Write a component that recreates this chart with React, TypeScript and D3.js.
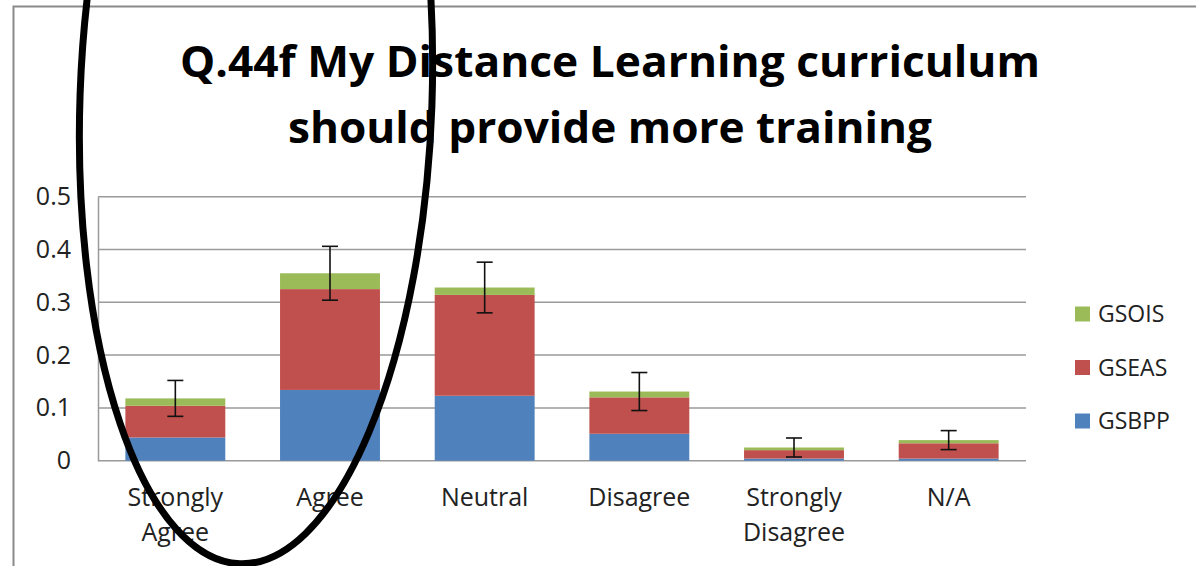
import React, { useEffect, useRef } from 'react'
import { select, scaleBand, scaleLinear, stack, axisLeft } from 'd3'

const categories = ['Strongly Agree', 'Agree', 'Neutral', 'Disagree', 'Strongly Disagree', 'N/A']
const categoryLines = [['Strongly', 'Agree'], ['Agree'], ['Neutral'], ['Disagree'], ['Strongly', 'Disagree'], ['N/A']]
const seriesNames = ['GSBPP', 'GSEAS', 'GSOIS']
const gsbpp = [0.044, 0.134, 0.123, 0.051, 0.004, 0.004]
const gseas = [0.060, 0.191, 0.191, 0.069, 0.016, 0.029]
const gsois = [0.014, 0.030, 0.014, 0.011, 0.005, 0.006]
const errors = [0.034, 0.051, 0.048, 0.036, 0.018, 0.018]
const yTicks = [0, 0.1, 0.2, 0.3, 0.4, 0.5]
const colors = ['#4F81BD', '#C0504D', '#9BBB59']

const App = () => {
    const svgRef = useRef(null)

    const width = 1196
    const height = 566
    const plot = { left: 98, right: 1026, top: 196.7, bottom: 460.7 }
    const font = "'Open Sans', 'Liberation Sans', sans-serif"

    useEffect(() => {
        const svg = select(svgRef.current)
        svg.selectAll('*').remove()

        svg.append('rect').attr('width', width).attr('height', height).attr('fill', '#fff')

        // slide frame
        svg.append('path')
            .attr('d', `M13.5,${height} L13.5,6.5 L${width},6.5`)
            .attr('fill', 'none')
            .attr('stroke', '#8a8a8a')
            .attr('stroke-width', 2)

        // title
        const title = svg.append('g')
            .attr('font-family', font)
            .attr('font-weight', 'bold')
            .attr('font-size', 43)
            .attr('fill', '#000')
            .attr('text-anchor', 'middle')
        title.append('text').attr('x', 610).attr('y', 77)
            .attr('textLength', 860).attr('lengthAdjust', 'spacingAndGlyphs')
            .text('Q.44f My Distance Learning curriculum')
        title.append('text').attr('x', 610).attr('y', 143)
            .attr('textLength', 644).attr('lengthAdjust', 'spacingAndGlyphs')
            .text('should provide more training')

        const xScale = scaleBand()
            .domain(categories)
            .range([plot.left, plot.right])
            .paddingInner(0.354)
            .paddingOuter(0.177)

        const yScale = scaleLinear()
            .domain([0, 0.5])
            .range([plot.bottom, plot.top])

        // gridlines
        svg.append('g')
            .selectAll('line')
            .data(yTicks)
            .enter().append('line')
            .attr('x1', plot.left)
            .attr('x2', plot.right)
            .attr('y1', d => yScale(d))
            .attr('y2', d => yScale(d))
            .attr('stroke', '#9a9a9a')
            .attr('stroke-width', 1.5)

        // y axis
        const yAxis = svg.append('g')
            .attr('transform', `translate(${plot.left},0)`)
            .call(axisLeft(yScale).tickValues(yTicks).tickSize(0).tickPadding(27).tickFormat(d => String(d)))
        yAxis.select('.domain').attr('stroke', '#9a9a9a').attr('stroke-width', 1.5)
        yAxis.selectAll('text')
            .attr('font-family', font)
            .attr('font-size', 25)
            .attr('fill', '#222')

        const rows = categories.map((c, i) => ({ cat: c, GSBPP: gsbpp[i], GSEAS: gseas[i], GSOIS: gsois[i] }))
        const stacked = stack().keys(seriesNames)(rows)

        stacked.forEach((layer, li) => {
            svg.append('g')
                .selectAll('rect')
                .data(layer)
                .enter().append('rect')
                .attr('x', d => xScale(d.data.cat))
                .attr('y', d => yScale(d[1]))
                .attr('width', xScale.bandwidth())
                .attr('height', d => yScale(d[0]) - yScale(d[1]))
                .attr('fill', colors[li])
        })

        // error bars
        const totals = categories.map((c, i) => gsbpp[i] + gseas[i] + gsois[i])
        const eb = svg.append('g').attr('stroke', '#111').attr('stroke-width', 1.6)
        categories.forEach((c, i) => {
            const cx = xScale(c) + xScale.bandwidth() / 2
            const hi = yScale(totals[i] + errors[i])
            const lo = yScale(totals[i] - errors[i])
            eb.append('line').attr('x1', cx).attr('x2', cx).attr('y1', hi).attr('y2', lo)
            eb.append('line').attr('x1', cx - 8).attr('x2', cx + 8).attr('y1', hi).attr('y2', hi)
            eb.append('line').attr('x1', cx - 8).attr('x2', cx + 8).attr('y1', lo).attr('y2', lo)
        })

        // x labels
        const xl = svg.append('g')
            .attr('font-family', font)
            .attr('font-size', 25)
            .attr('fill', '#222')
            .attr('text-anchor', 'middle')
        categoryLines.forEach((lines, i) => {
            const cx = xScale(categories[i]) + xScale.bandwidth() / 2
            lines.forEach((t, j) => {
                xl.append('text').attr('x', cx).attr('y', 506 + j * 35).text(t)
            })
        })

        // legend (top to bottom: GSOIS, GSEAS, GSBPP)
        const legend = svg.append('g').attr('font-family', font).attr('font-size', 23).attr('fill', '#222')
        const order = [2, 1, 0]
        order.forEach((si, k) => {
            const y = 314 + k * 53.5
            legend.append('rect').attr('x', 1075).attr('y', y - 7.5).attr('width', 15).attr('height', 15).attr('fill', colors[si])
            legend.append('text').attr('x', 1098).attr('y', y + 8).text(seriesNames[si])
        })

        // hand drawn ellipse annotation
        svg.append('ellipse')
            .attr('cx', 256)
            .attr('cy', 100)
            .attr('rx', 176)
            .attr('ry', 464)
            .attr('transform', 'rotate(2 256 100)')
            .attr('fill', 'none')
            .attr('stroke', '#000')
            .attr('stroke-width', 7)
    }, [])

    return (
        <svg ref={svgRef} width={width} height={height}
            style={{ position: 'absolute', left: 0, top: 0, display: 'block' }} />
    )
}

export default App
